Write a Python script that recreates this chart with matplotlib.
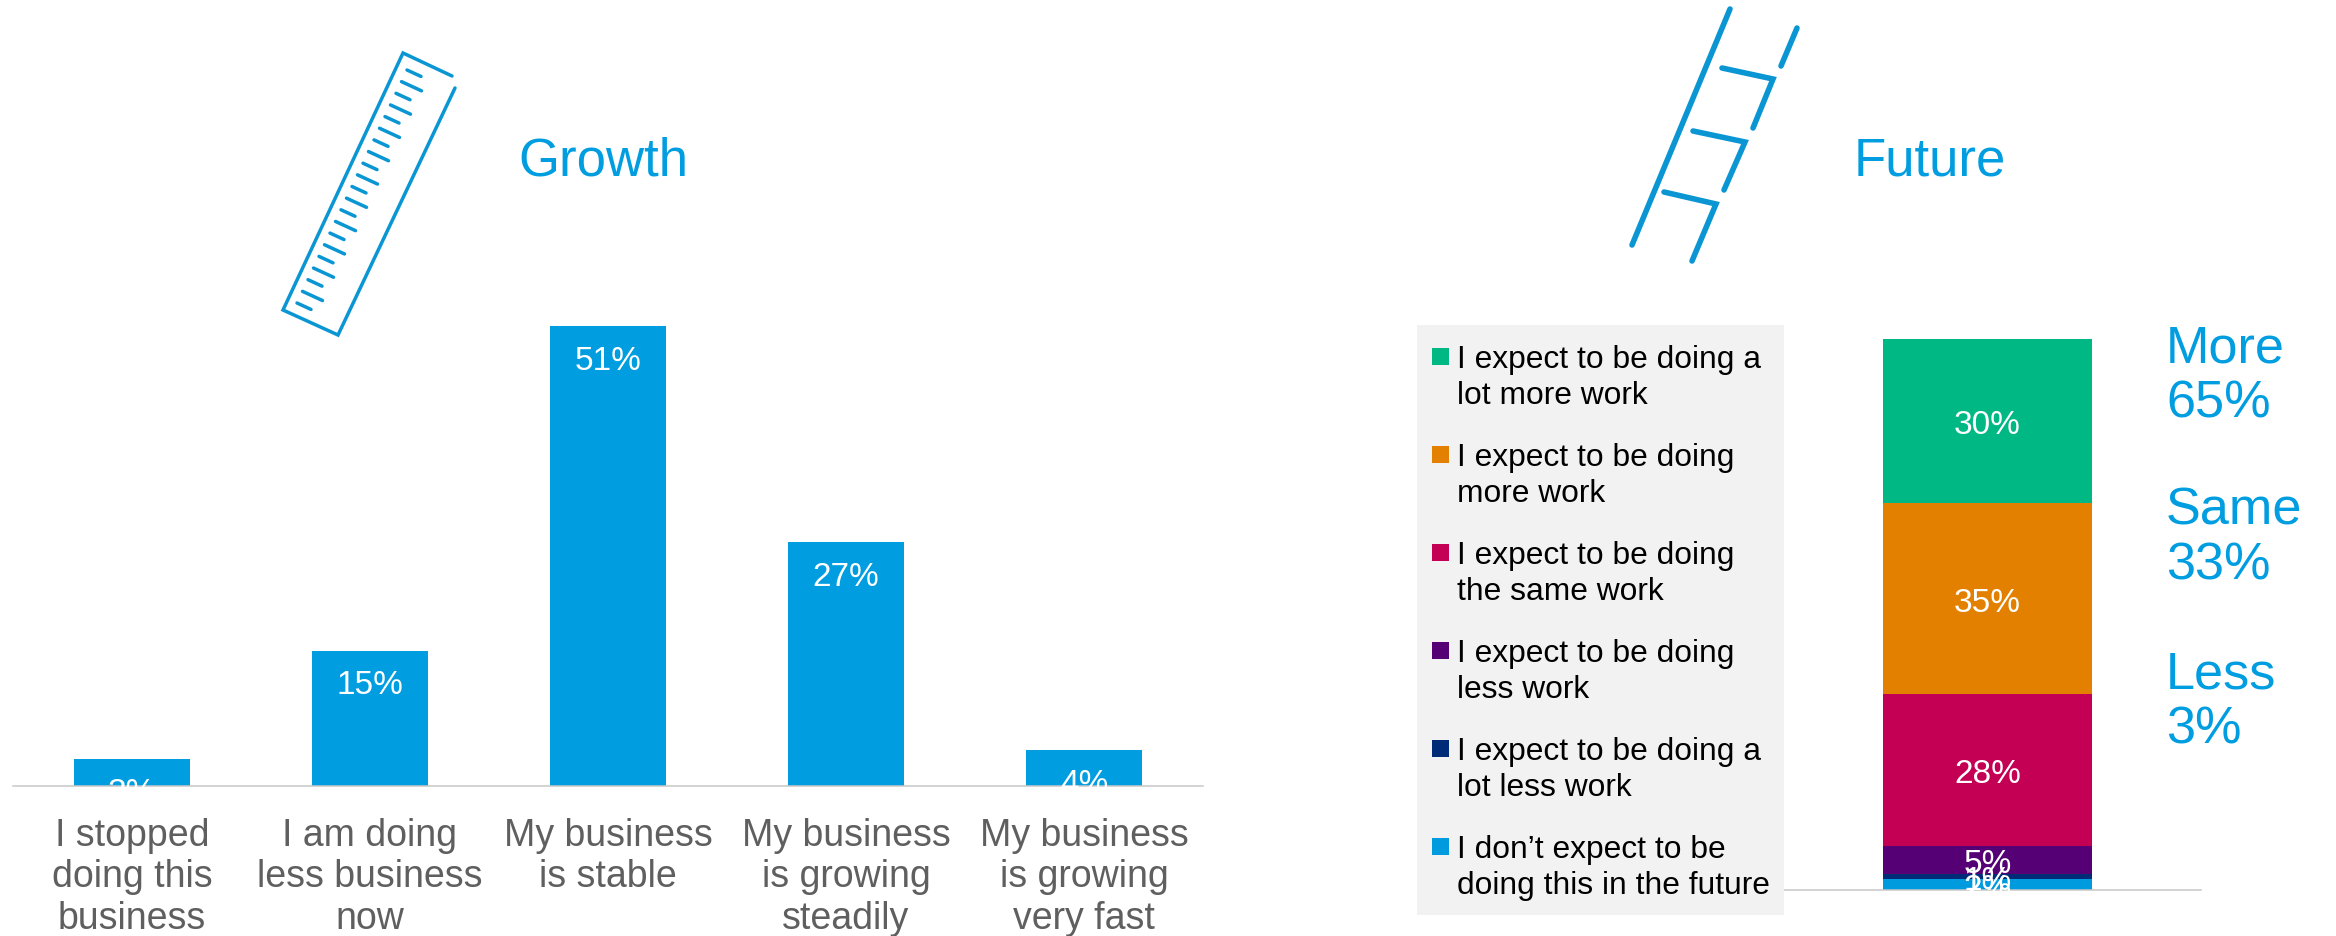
#!/usr/bin/env python3
"""Growth and future outlook survey results, side by side."""
from __future__ import annotations

import matplotlib

matplotlib.use("Agg")
import matplotlib.pyplot as plt  # noqa: E402
from matplotlib.patches import Rectangle  # noqa: E402

W, H = 2336, 937
DPI = 100
BLUE = "#009DE0"; ICON = "#0A95D3"; AXIS = "#C8C8C8"; GREY = "#5F5F5F"; PANEL = "#F2F2F2"

GROWTH_CATS = [
    "I stopped\ndoing this\nbusiness",
    "I am doing\nless business\nnow",
    "My business\nis stable",
    "My business\nis growing\nsteadily",
    "My business\nis growing\nvery fast",
]
GROWTH_VALS = [3, 15, 51, 27, 4]

# bottom of the stack first
FUTURE_CATS = [
    "I don\u2019t expect to be\ndoing this in the future",
    "I expect to be doing a\nlot less work",
    "I expect to be doing\nless work",
    "I expect to be doing\nthe same work",
    "I expect to be doing\nmore work",
    "I expect to be doing a\nlot more work",
]
FUTURE_VALS = [2, 1, 5, 28, 35, 30]
FUTURE_COLORS = ["#009ADE", "#002C77", "#550075", "#C40055", "#E38000", "#00B884"]

SUMMARY = [("More", "65%", 349), ("Same", "33%", 511), ("Less", "3%", 675)]


def px_axes(fig, left, top, right, bottom):
    # axes placed by pixel box, y measured from the top of the figure
    return fig.add_axes([left / W, 1 - bottom / H, (right - left) / W, (bottom - top) / H])


def clean(ax):
    for k in ("top", "left", "right"):
        ax.spines[k].set_visible(False)
    ax.spines["bottom"].set_color(AXIS); ax.spines["bottom"].set_linewidth(1.1)
    ax.set_yticks([]); ax.patch.set_alpha(0)


def stroke(ov, xs, ys, lw=3.0):
    ov.plot(xs, ys, color=ICON, lw=lw, solid_capstyle="round", solid_joinstyle="miter")


def draw_ruler(ov):
    stroke(ov, [452, 403, 283, 338, 455], [77, 54, 311, 336, 89], lw=2.5)
    for i in range(21):
        length = (14, 20)[i % 2]
        x0 = 407 - i * 5.5
        y0 = 71 + i * 11.65
        stroke(ov, [x0, x0 + length], [y0, y0 + length * 0.46], lw=2.5)


def draw_ladder(ov):
    stroke(ov, [1730, 1632], [10, 246], lw=4.0)
    stroke(ov, [1797, 1781], [29, 67], lw=4.0)
    stroke(ov, [1722, 1773, 1753], [69, 80, 129], lw=4.0)
    stroke(ov, [1693, 1745, 1724], [132, 143, 191], lw=4.0)
    stroke(ov, [1664, 1716, 1692], [193, 205, 262], lw=4.0)


def main():
    plt.rcParams["font.family"] = ["Liberation Sans", "DejaVu Sans"]
    fig = plt.figure(figsize=(W / DPI, H / DPI), dpi=DPI, facecolor="white")

    # ---- left: growth bars ----
    ax = px_axes(fig, 13, 327, 1203, 787)
    bars = ax.bar(range(len(GROWTH_VALS)), GROWTH_VALS, width=0.488, color=BLUE)
    ax.set_xlim(-0.5, 4.5); ax.set_ylim(0, 51)
    clean(ax)
    ax.set_xticks(range(len(GROWTH_CATS)), GROWTH_CATS, fontsize=27, color=GREY, linespacing=1.2)
    ax.tick_params(axis="x", length=0, pad=22)
    for b, v in zip(bars, GROWTH_VALS):
        ax.annotate(f"{v}%", (b.get_x() + b.get_width() / 2, v), xytext=(0, -34 * 72 / DPI),
                    textcoords="offset points", ha="center", va="center", color="white", fontsize=24)

    # ---- right: future stack, lower labels drawn over the ones above ----
    ax2 = px_axes(fig, 1774, 340, 2201, 891)
    bottom = 0
    for i, (v, c) in enumerate(zip(FUTURE_VALS, FUTURE_COLORS)):
        ax2.bar(0, v, width=0.49, bottom=bottom, color=c)
        ax2.annotate(f"{v}%", (0, bottom + v / 2), xytext=(0, -4 * 72 / DPI), textcoords="offset points",
                     ha="center", va="center", color="white", fontsize=24, zorder=20 - i)
        bottom += v
    ax2.set_xlim(-0.5, 0.5); ax2.set_ylim(0, sum(FUTURE_VALS))
    clean(ax2)
    ax2.set_xticks([])

    # ---- overlay in pixel units: titles, icons, legend panel, summary ----
    ov = fig.add_axes([0, 0, 1, 1]); ov.set_xlim(0, W); ov.set_ylim(H, 0); ov.axis("off")
    ov.text(603, 162, "Growth", color=BLUE, fontsize=38, ha="center", va="center")
    ov.text(1930, 162, "Future", color=BLUE, fontsize=38, ha="center", va="center")
    draw_ruler(ov)
    draw_ladder(ov)

    ov.add_patch(Rectangle((1417, 326), 367, 590, facecolor=PANEL, edgecolor="none"))
    for i, (label, c) in enumerate(zip(FUTURE_CATS[::-1], FUTURE_COLORS[::-1])):
        y = 349 + i * 98
        ov.add_patch(Rectangle((1432, y), 17, 17, facecolor=c, edgecolor="none"))
        ov.text(1457, y - 4, label, color="black", fontsize=22.9, ha="left", va="top", linespacing=1.28)

    for word, pct, y in SUMMARY:
        ov.text(2166, y, word, color=BLUE, fontsize=37.6, ha="left", va="center")
        ov.text(2166, y + 55, pct, color=BLUE, fontsize=37.6, ha="left", va="center")

    fig.savefig("out.png", dpi=DPI, facecolor="white")
    plt.close(fig)


if __name__ == "__main__":
    main()
